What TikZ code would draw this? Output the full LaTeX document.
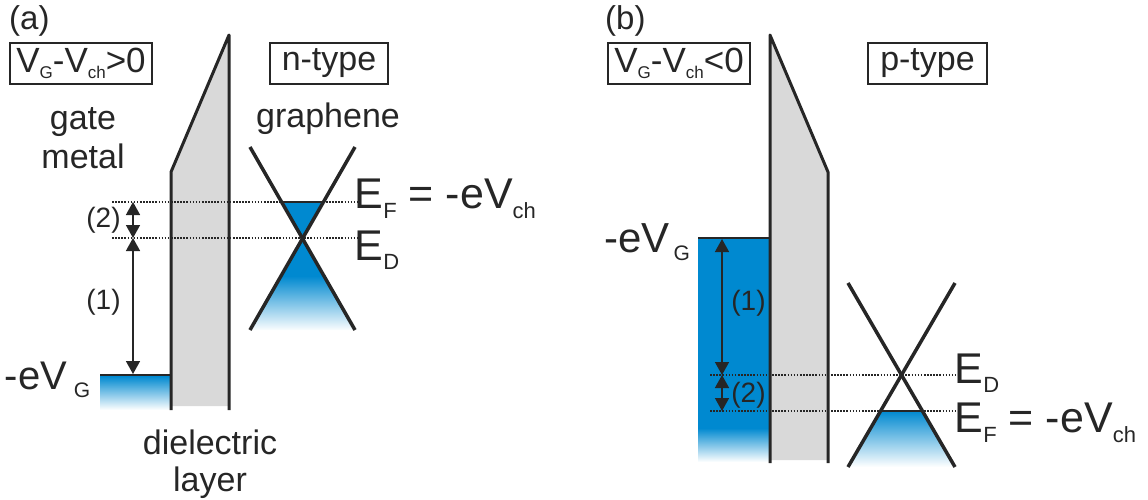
\documentclass[tikz,border=0pt]{standalone}
\usepackage{fontspec}
\setmainfont{Liberation Sans}
\usetikzlibrary{arrows.meta}
\definecolor{ink}{RGB}{38,38,38}
\definecolor{bandblue}{RGB}{0,137,208}
\definecolor{diel}{RGB}{217,217,217}
\newcommand{\fs}[1]{\fontsize{#1}{#1}\selectfont}
\newcommand{\sbx}[3]{\raisebox{-#1pt}{\fs{#2}#3}}
\begin{document}
\begin{tikzpicture}[x=1pt,y=-1pt,
  every node/.style={inner sep=0pt, text=ink},
  lbl/.style={font=\fs{34}},
  tag/.style={font=\fs{33}, anchor=base west},
  box/.style={draw=ink, line width=1.5pt, minimum height=41pt, font=\fs{35}},
  barrier/.style={draw=ink, line width=3pt, line join=round},
  bandline/.style={draw=ink, line width=3.5pt},
  level/.style={draw=ink, line width=2.5pt},
  dotline/.style={draw=ink, line width=1.6pt, dash pattern=on 1.6pt off 1.5pt},
  dim/.style={draw=ink, line width=1.5pt, {Triangle[width=14pt,length=13pt]}-{Triangle[width=14pt,length=13pt]}},
  energy/.style={font=\fs{43}, anchor=base west},
  gap/.style={font=\fs{28}},
]
\useasboundingbox (0,0) rectangle (1148,500);

% ================= panel (a) =================
% dielectric
\fill[diel] (171,406) -- (171,172) -- (229,35) -- (229,406) -- cycle;
% metal
\shade[top color=bandblue, bottom color=white] (100,376) rectangle (171,410);
% cone fills
\fill[bandblue] (281.8,202) -- (323.2,202) -- (302.5,238) -- cycle;
\begin{scope}
  \clip (302.5,238) -- (250,330) -- (355,330) -- cycle;
  \fill[bandblue] (240,236) rectangle (365,277);
  \shade[top color=bandblue, bottom color=white] (240,276) rectangle (365,331);
\end{scope}
% dotted levels
\coordinate (aEFl) at (112,202); \coordinate (aEFr) at (357,202);
\coordinate (aEDl) at (112,238); \coordinate (aEDr) at (357,238);
\draw[dotline] (aEFl) -- (aEFr);
\draw[dotline] (aEDl) -- (aEDr);
\draw[draw=ink, line width=2pt] (281.8,202) -- (323.2,202);
% cone lines
\coordinate (aUL) at (250,147); \coordinate (aUR) at (355,147);
\coordinate (aLL) at (250,330); \coordinate (aLR) at (355,330);
\draw[bandline] (aUL) -- (aLR);
\draw[bandline] (aUR) -- (aLL);
% metal level
\coordinate (aML) at (100,375); \coordinate (aMR) at (171,375);
\draw[level] (aML) -- (aMR);
% dielectric outline
\draw[barrier] (171,410) -- (171,172) -- (229,35) -- (229,410);
% dimension arrows
\coordinate (aA2) at (133,202); \coordinate (aA1) at (133,238); \coordinate (aA0) at (133,374);
\draw[dim] (aA2) -- (aA1);
\draw[dim] (aA1) -- (aA0);
% texts
\node[tag] (tagA) at (9,30) {(a)};
\node[box, minimum width=142pt] (condA) at (81,63.5) {V\sbx{6}{17}{G}-V\sbx{6}{17}{ch}>0};
\node[box, minimum width=118pt, font=\fs{34}] (typeA) at (329,63.5) {n-type};
\node[lbl, anchor=base] (gateA) at (83,130) {gate};
\node[lbl, anchor=base] (metalA) at (83,168) {metal};
\node[lbl, anchor=base] (graphA) at (328,128) {graphene};
\node[lbl, anchor=base] (dielA) at (210,454) {dielectric};
\node[lbl, anchor=base] (layerA) at (210,491) {layer};
\node[gap] (n2A) at (103.5,220) {(2)};
\node[gap] (n1A) at (103.5,302) {(1)};
\node[anchor=base west, font=\fs{40}] (vgA) at (4.5,389) {-eV\hspace{7pt}\sbx{8}{21}{G}};
\node[energy] (efA) at (354.5,208) {E\sbx{10}{22}{F} = -eV\sbx{10}{22}{ch}};
\node[energy] (edA) at (354.5,260) {E\sbx{9}{22}{D}};

% ================= panel (b) =================
\fill[diel] (770,460) -- (770,35) -- (828,172) -- (828,460) -- cycle;
\fill[bandblue] (698,238) rectangle (770,429);
\shade[top color=bandblue, bottom color=white] (698,428) rectangle (770,462);
% cone fill
\shade[top color=bandblue, bottom color=white] (880.6,411) -- (922.4,411) -- (955,467) -- (848,467) -- cycle;
% dotted levels
\coordinate (bEDl) at (710,375); \coordinate (bEDr) at (955,375);
\coordinate (bEFl) at (710,411); \coordinate (bEFr) at (955,411);
\draw[dotline] (bEDl) -- (bEDr);
\draw[dotline] (bEFl) -- (bEFr);
\draw[level] (880.6,411) -- (922.4,411);
% cone lines
\coordinate (bUL) at (848,283); \coordinate (bUR) at (955,283);
\coordinate (bLL) at (848,467); \coordinate (bLR) at (955,467);
\draw[bandline] (bUL) -- (bLR);
\draw[bandline] (bUR) -- (bLL);
% metal level
\coordinate (bML) at (698,238); \coordinate (bMR) at (770,238);
\draw[level] (bML) -- (bMR);
% dielectric outline
\draw[barrier] (770,463) -- (770,35) -- (828,172) -- (828,463);
% dimension arrows
\coordinate (bA0) at (722,239); \coordinate (bA1) at (722,375); \coordinate (bA2) at (722,411);
\draw[dim] (bA0) -- (bA1);
\draw[dim] (bA1) -- (bA2);
% texts
\node[tag] (tagB) at (605,30) {(b)};
\node[box, minimum width=142pt] (condB) at (679,63.5) {V\sbx{6}{17}{G}-V\sbx{6}{17}{ch}<0};
\node[box, minimum width=119pt, font=\fs{34}] (typeB) at (927.5,63.5) {p-type};
\node[gap] (n1B) at (748.5,303) {(1)};
\node[gap] (n2B) at (748.5,395) {(2)};
\node[anchor=base west, font=\fs{42}] (vgB) at (604,252) {-eV\hspace{4pt}\sbx{8}{21}{G}};
\node[energy] (edB) at (954.5,383) {E\sbx{9}{22}{D}};
\node[energy] (efB) at (954.5,432) {E\sbx{10}{22}{F} = -eV\sbx{10}{22}{ch}};
\end{tikzpicture}
\end{document}
